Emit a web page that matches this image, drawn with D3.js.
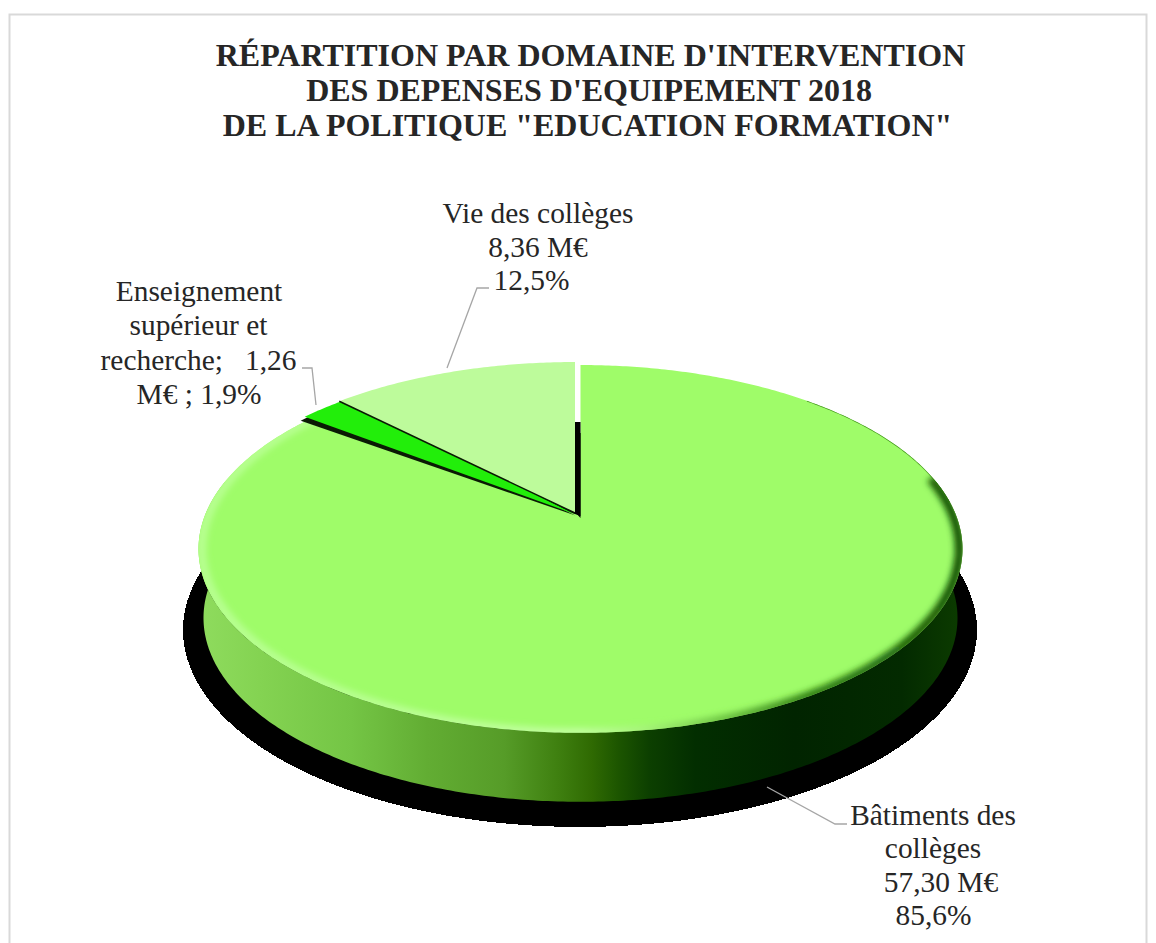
<!DOCTYPE html>
<html><head><meta charset="utf-8">
<script src="https://cdnjs.cloudflare.com/ajax/libs/d3/7.8.5/d3.min.js"></script>
<style>html,body{margin:0;padding:0;background:#fff}svg{display:block}</style>
</head><body><svg id="c" width="1156" height="943"></svg>
<script>
const categories = ["Bâtiments des collèges","Enseignement supérieur et recherche","Vie des collèges"];
const values = [57.30,1.26,8.36];
const sliceColors = ["#9ffc69","#22ee0a","#bdfb9b"];
const titleLines = ["RÉPARTITION PAR DOMAINE D'INTERVENTION","DES DEPENSES D'EQUIPEMENT 2018","DE LA POLITIQUE \"EDUCATION FORMATION\""];
const labelBat = ["Bâtiments des","collèges","57,30 M€","85,6%"];
const labelEns = ["Enseignement","supérieur et","recherche;   1,26","M€ ; 1,9%"];
const labelVie = ["Vie des collèges","8,36 M€","12,5%"];

const svg = d3.select("#c");
const defs = svg.append("defs");
const FONT = "'Liberation Serif','Times New Roman',serif";

// Perspective projection of the pie plane
const cx=580.5, apexY=516, p=0.179, S=178, R=375.8;
function project(theta,dx=0,dy=0,k=1){
  const u=Math.sin(theta), v=-Math.cos(theta), w=1-p*v;
  return [cx+dx+k*R*u/w, apexY+dy+S*v/w];
}
const pieData = d3.pie().sort(null).startAngle(0).endAngle(2*Math.PI)(values);
const line = d3.line();
function arcPts(a0,a1,dx=0,dy=0,k=1){
  const n=Math.max(4,Math.ceil(Math.abs(a1-a0)*90));
  return d3.range(n+1).map(i=>project(a0+(a1-a0)*i/n,dx,dy,k));
}
function sector(a0,a1,dx=0,dy=0){
  return line([[cx+dx,apexY+dy],...arcPts(a0,a1,dx,dy)])+"Z";
}

// Ground shadow
svg.append("ellipse").attr("cx",580).attr("cy",630).attr("rx",397).attr("ry",197)
  .attr("fill","#000").attr("shape-rendering","crispEdges");

// Wall
const wallGrad = defs.append("linearGradient").attr("id","wall").attr("gradientUnits","userSpaceOnUse")
  .attr("x1",198).attr("x2",963).attr("y1",0).attr("y2",0);
[[0,"#8fdc5e"],[0.08,"#84d352"],[0.2,"#74c545"],[0.3,"#62ad33"],[0.4,"#569c28"],[0.47,"#3f8010"],[0.515,"#2f6a02"],[0.55,"#1c5500"],[0.59,"#0c3f00"],[0.65,"#022e00"],[0.78,"#012400"],[0.92,"#032a00"],[1,"#0c3c00"]]
  .forEach(s=>wallGrad.append("stop").attr("offset",s[0]).attr("stop-color",s[1]));
const a90=Math.acos(p), aL=2*Math.PI-a90;
const wallTop = arcPts(a90-0.02,aL+0.02);
const wallBot = arcPts(aL+0.02,a90-0.02,0,69,0.987);
svg.append("path").attr("d",line([...wallTop,...wallBot])+"Z").attr("fill","url(#wall)");

// Main slice
const main=pieData[0], ens=pieData[1], vie=pieData[2];
const mainEnd=main.endAngle-0.017;
defs.append("clipPath").attr("id","mainClip").append("path").attr("d",sector(main.startAngle,mainEnd));
svg.append("path").attr("d",sector(main.startAngle,mainEnd)).attr("fill",sliceColors[0]);

// Bevel along the rim
const blur=defs.append("filter").attr("id","blur").attr("x","-5%").attr("y","-5%").attr("width","110%").attr("height","110%");
blur.append("feGaussianBlur").attr("stdDeviation",3);
const rimGrad = defs.append("linearGradient").attr("id","rim").attr("gradientUnits","userSpaceOnUse")
  .attr("x1",198).attr("x2",963).attr("y1",0).attr("y2",0);
[[0,"#b8ff92"],[0.2,"#b8ff92"],[0.5,"#c2ffa0"],[0.58,"#a8f47c"],[0.68,"#6fc644"],[0.8,"#2c7a10"],[1,"#0d4a00"]]
  .forEach(s=>rimGrad.append("stop").attr("offset",s[0]).attr("stop-color",s[1]));
svg.append("g").attr("clip-path","url(#mainClip)").append("path")
  .attr("d",line(arcPts(a90-0.04,aL+0.55,0,0,0.992)))
  .attr("fill","none").attr("stroke","url(#rim)").attr("stroke-width",9).attr("filter","url(#blur)");
svg.append("g").attr("clip-path","url(#mainClip)").append("path")
  .attr("d",line(arcPts(0.75,a90+0.1)))
  .attr("fill","none").attr("stroke","#1f6a00").attr("stroke-width",1.3).attr("opacity",0.7);

// Inner wall behind the exploded slices
svg.append("path")
  .attr("d",line([[575,422],[cx,422],[cx,apexY+2],[575,apexY-4]])+"Z").attr("fill","#000");

// Enseignement: dark wall then top
const ensDx=-6, ensDy=-2;
svg.append("path").attr("d",sector(mainEnd-0.021,ens.endAngle,-5,-0.5)).attr("fill","#0a1a04");
svg.append("path").attr("d",sector(mainEnd,ens.endAngle+0.03,ensDx,ensDy)).attr("fill",sliceColors[1]);

// Vie
svg.append("path").attr("d",sector(vie.startAngle,vie.endAngle,-5.5,-3)).attr("fill",sliceColors[2]);
svg.append("path").attr("d",line([[cx-5.5,apexY-3],project(vie.startAngle,-5.5,-3)])).attr("stroke","#0a1a04").attr("stroke-width",1.5).attr("fill","none");

// Frame
svg.append("path").attr("d","M9.5,943V14.5H1146.5V943").attr("fill","none").attr("stroke","#d9d9d9").attr("stroke-width",2);

// Leaders
const leaders=[[[447,368],[477,288],[489,288]],[[316,405],[312,368],[302,368]],[[767,787],[835,824],[847,824]]];
svg.selectAll(".lead").data(leaders).join("path").attr("d",d=>line(d)).attr("fill","none").attr("stroke","#a6a6a6").attr("stroke-width",1.3);

// Text
svg.selectAll(".t").data(titleLines).join("text").attr("x",(d,i)=>[590.5,589,587.5][i]).attr("y",(d,i)=>[66,100.5,136][i])
  .attr("text-anchor","middle").attr("font-family",FONT).attr("font-weight","bold").attr("font-size",32).attr("fill","#262626").text(d=>d);
function label(lines,xs,ys){
  svg.append("g").selectAll("text").data(lines).join("text").attr("x",(d,i)=>xs[i]).attr("y",(d,i)=>ys[i])
    .attr("text-anchor","middle").attr("font-family",FONT).attr("font-size",29.4).attr("fill","#262626").style("white-space","pre").text(d=>d);
}
label(labelVie,[538,538,531.5],[223,257,290]);
label(labelEns,[199,198.5,198.5,199],[301,335,370,404]);
label(labelBat,[933,933,941,933.5],[825,858,892,925]);
</script></body></html>
